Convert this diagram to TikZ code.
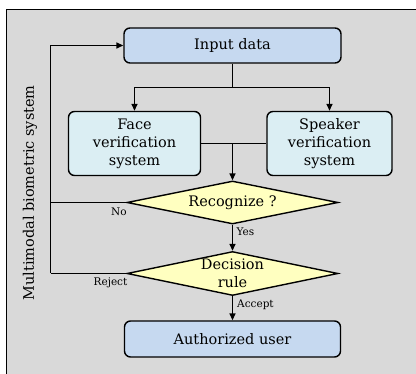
\documentclass[tikz,border=0pt]{standalone}
\usepackage{fontspec}
\setmainfont{DejaVu Serif}
\usetikzlibrary{shapes.geometric,arrows.meta}
\definecolor{bggray}{RGB}{217,217,217}
\definecolor{inblue}{RGB}{198,217,240}
\definecolor{sysblue}{RGB}{219,238,243}
\definecolor{diayel}{RGB}{255,255,192}
\begin{document}
\begin{tikzpicture}[x=1pt,y=-1pt,
  box/.style={draw=black,line width=1.4pt,rounded corners=6pt,inner sep=0pt,align=center,
    font=\fontsize{14.5}{18}\selectfont},
  dia/.style={draw=black,line width=1.4pt,diamond,inner sep=0pt,fill=diayel},
  dtext/.style={align=center,inner sep=0pt,font=\fontsize{14.5}{18}\selectfont},
  lab/.style={inner sep=0pt,font=\fontsize{10.5}{12}\selectfont},
  conn/.style={line width=1.5pt},
  arr/.style={conn,-{Triangle[length=7pt,width=6pt]}}]
\useasboundingbox (0,0) rectangle (416,374);
\fill[bggray] (6,9) rectangle (416,374);
\draw[line width=1.4pt] (6.6,374) -- (6.6,9.6) -- (416,9.6);

\node[box,fill=inblue,minimum width=217pt,minimum height=35pt] (in) at (232.5,45.5) {Input data};
\node[box,fill=sysblue,minimum width=132pt,minimum height=64pt] (face) at (134.5,143.5) {Face\\verification\\system};
\node[box,fill=sysblue,minimum width=125pt,minimum height=64pt] (spk) at (329.5,143.5) {Speaker\\verification\\system};
\node[dia,minimum width=211pt,minimum height=43pt] (rec) at (232.5,202.5) {};
\node[dtext] (rect) at (rec) {Recognize ?};
\node[dia,minimum width=211pt,minimum height=44pt] (dec) at (232.5,273.5) {};
\node[dtext] (dect) at (dec) {Decision\\rule};
\node[box,fill=inblue,minimum width=216pt,minimum height=36pt] (auth) at (232.5,339) {Authorized user};

\node[rotate=90,inner sep=0pt,font=\fontsize{14.5}{18}\selectfont] (side) at (30,193) {Multimodal biometric system};

\coordinate (split) at (232.5,87.5);
\coordinate (join) at (232.5,143.5);
\coordinate (lrec) at (50.5,202.5);
\coordinate (ldec) at (50.5,273.5);
\coordinate (ltop) at (50.5,45.5);

\draw[conn] (in.south) -- (split);
\draw[arr] (split) -| (face.north);
\draw[arr] (split) -| (spk.north);
\draw[conn] (face.east) -- (spk.west);
\draw[arr] (join) -- (rec.north);
\draw[conn] (rec.west) -- (lrec);
\draw[conn] (dec.west) -- (ldec);
\draw[arr] (ldec) -- (ltop) -- (in.west);
\draw[arr] (rec.south) -- (dec.north);
\draw[arr] (dec.south) -- (auth.north);

\node[lab] (no) at (119,212) {No};
\node[lab,anchor=west] (yes) at (236.5,232) {Yes};
\node[lab] (rej) at (110.5,283) {Reject};
\node[lab,anchor=west] (acc) at (237,305) {Accept};
\end{tikzpicture}
\end{document}
